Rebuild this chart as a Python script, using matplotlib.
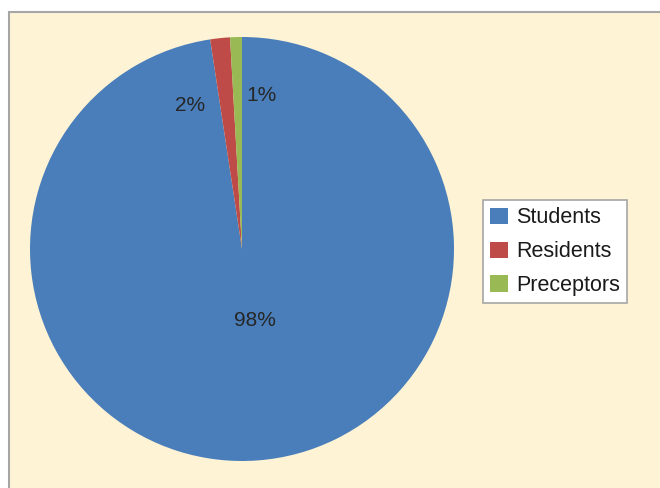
import matplotlib
matplotlib.use("Agg")
import matplotlib.pyplot as plt
from matplotlib.patches import Rectangle

plt.rcParams['font.family'] = ['Liberation Sans', 'DejaVu Sans']

categories = ["Students", "Residents", "Preceptors"]
values = [97.6, 1.5, 0.9]
pct_labels = ["98%", "2%", "1%"]
colors = ["#4A7EBB", "#BE4B48", "#98B954"]

fig = plt.figure(figsize=(6.6, 4.88), dpi=100)
fig.patch.set_facecolor("white")
fig.patches.append(Rectangle((8.5/660, -0.1), 1.2, 1 - 12/488 + 0.1,
                             transform=fig.transFigure, facecolor="#FEF3D4",
                             edgecolor="#A6A6A6", linewidth=1.5, zorder=-1))

ax = fig.add_axes([30/660, 27/488, 424/660, 424/488])
ax.set_zorder(1)
wedges, _ = ax.pie(values, colors=colors, startangle=90, counterclock=False,
                   wedgeprops=dict(linewidth=0))
ax.set_xlim(-1, 1)
ax.set_ylim(-1, 1)
ax.axis("off")

label_pos = [(0.061, -0.335), (-0.245, 0.679), (0.092, 0.722)]
for lab, (x, y) in zip(pct_labels, label_pos):
    ax.text(x, y, lab, ha="center", va="center", fontsize=15, color="#262626")

leg = fig.legend(wedges, categories, loc="upper left",
                 bbox_to_anchor=(483/660, 1 - 200/488), borderaxespad=0,
                 fontsize=15.5, handlelength=0.8, handleheight=0.8,
                 handletextpad=0.4, labelspacing=0.6, fancybox=False,
                 frameon=True, edgecolor="#A6A6A6", facecolor="white",
                 framealpha=1, borderpad=0.34)
leg.set_zorder(2)
leg.get_frame().set_linewidth(1.2)
for t in leg.get_texts():
    t.set_color("#1A1A1A")

fig.savefig("out.png", dpi=100)
